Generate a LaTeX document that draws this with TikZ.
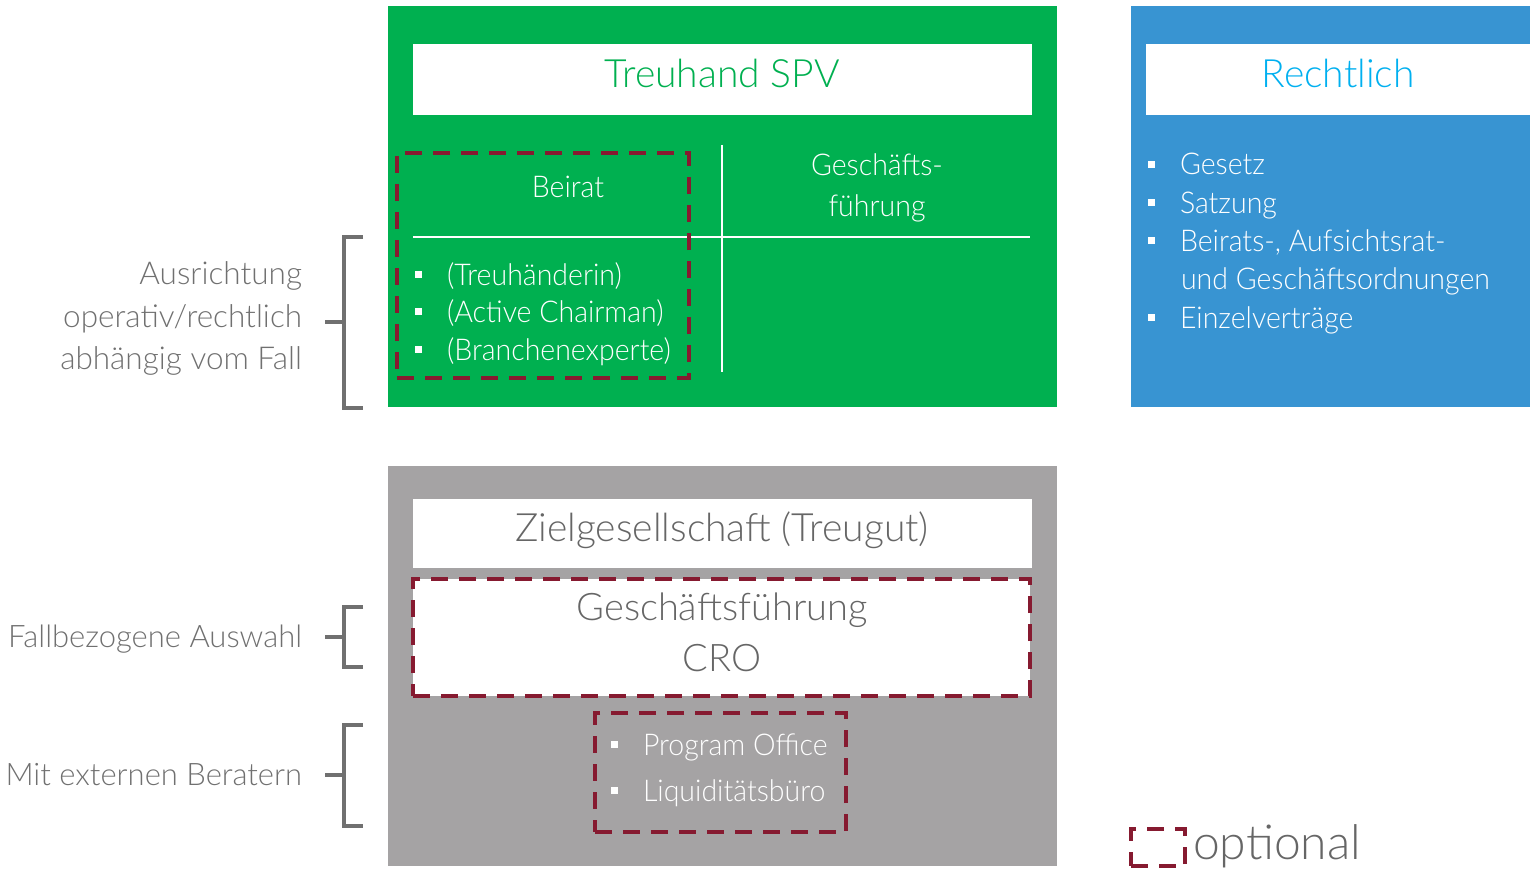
\documentclass[tikz,border=0pt]{standalone}
\usepackage{fontspec}
\setmainfont{Lato Light}
\newfontfamily\narrowfont{Lato Light}[FakeStretch=0.95]
\definecolor{spvgreen}{HTML}{00B050}
\definecolor{legalblue}{HTML}{3894D2}
\definecolor{legalcyan}{HTML}{00B0F0}
\definecolor{targetgray}{HTML}{A5A3A4}
\definecolor{optred}{HTML}{861A30}
\definecolor{labelgray}{HTML}{707070}
\definecolor{darktext}{HTML}{666666}
\newcommand\sqbul{\makebox[32pt][l]{\rule[7pt]{7pt}{7pt}}}
\tikzset{
  panel/.style={inner sep=0pt, outer sep=0pt, anchor=north west},
  dashbox/.style={draw=optred, line width=4pt, dash pattern=on 17pt off 11pt, inner sep=0pt, outer sep=0pt, anchor=north west},
  txt/.style={inner sep=0pt, outer sep=0pt},
  body/.style={txt, font=\narrowfont\fontsize{30}{36}\selectfont},
  ttl/.style={txt, anchor=base, font=\fontsize{39}{46}\selectfont},
  lbl/.style={txt, anchor=base east, text=labelgray, font=\fontsize{31.5}{38}\selectfont},
  slbl/.style={lbl, font=\fontsize{31}{38}\selectfont},
  item/.style={body, anchor=base west, text=white},
  big/.style={txt, anchor=base, text=darktext, font=\fontsize{38}{44}\selectfont},
  brk/.style={draw=labelgray, line width=4pt, line join=miter},
  divider/.style={draw=white, line width=2.5pt}
}
\begin{document}
\begin{tikzpicture}[x=1pt,y=-1pt]
\useasboundingbox (0,0) rectangle (1530,869);

% --- Treuhand SPV panel ---
\node[panel, fill=spvgreen, minimum width=669pt, minimum height=401pt] (spv) at (388,6) {};
\node[panel, fill=white, minimum width=619pt, minimum height=71pt] (spvhead) at (413,44) {};
\node[ttl, text=spvgreen] (spvname) at (722,88) {Treuhand SPV};
\coordinate (vtop) at (722,145);
\coordinate (vbot) at (722,372);
\coordinate (hleft) at (413,237);
\coordinate (hright) at (1030,237);
\draw[divider] (vtop) -- (vbot);
\draw[divider] (hleft) -- (hright);
\node[body, anchor=base, text=white] (beirat) at (568,197) {Beirat};
\node[body, anchor=base, text=white] (gf1) at (877,176) {Geschäfts-};
\node[body, anchor=base, text=white] (gf2) at (877,216) {führung};
\node[item] (b1) at (415,285) {\sqbul(Treuhänderin)};
\node[item] (b2) at (415,322) {\sqbul(Active Chairman)};
\node[item] (b3) at (415,360) {\sqbul(Branchenexperte)};
\node[dashbox, minimum width=292pt, minimum height=225pt] (beiratbox) at (397,153) {};

% --- Rechtlich panel ---
\node[panel, fill=legalblue, minimum width=399pt, minimum height=401pt] (legal) at (1131,6) {};
\node[panel, fill=white, minimum width=384pt, minimum height=71pt] (legalhead) at (1146,44) {};
\node[ttl, text=legalcyan] (legalname) at (1338,88) {Rechtlich};
\node[item] (l1) at (1148,175) {\sqbul Gesetz};
\node[item] (l2) at (1148,213) {\sqbul Satzung};
\node[item] (l3) at (1148,251) {\sqbul Beirats-, Aufsichtsrat-};
\node[item] (l3b) at (1181,289) {und Geschäftsordnungen};
\node[item] (l4) at (1148,328) {\sqbul Einzelverträge};

% --- Zielgesellschaft panel ---
\node[panel, fill=targetgray, minimum width=669pt, minimum height=400pt] (target) at (388,466) {};
\node[panel, fill=white, minimum width=619pt, minimum height=69pt] (targethead) at (413,499) {};
\node[big, font=\fontsize{39}{44}\selectfont] (targetname) at (722,541) {Zielgesellschaft (Treugut)};
\node[dashbox, fill=white, minimum width=617pt, minimum height=117pt] (cro) at (413,579) {};
\node[big] (cro1) at (722,620) {Geschäftsführung};
\node[big] (cro2) at (722,671) {CRO};
\node[dashbox, minimum width=251pt, minimum height=119pt] (office) at (595,713) {};
\node[item] (o1) at (611,755) {\sqbul Program Office};
\node[item] (o2) at (611,801) {\sqbul Liquiditätsbüro};

% --- Side labels with brackets ---
\node[lbl] (a1) at (302,284) {Ausrichtung};
\node[lbl] (a2) at (302,327) {operativ/rechtlich};
\node[lbl] (a3) at (302,369) {abhängig vom Fall};
\node[slbl] (fa) at (302,647) {Fallbezogene Auswahl};
\node[slbl] (mb) at (302,785) {Mit externen Beratern};

\coordinate (k1a) at (363,237); \coordinate (k1b) at (363,408);
\coordinate (k1m) at (325,322); \coordinate (k1s) at (344,322);
\draw[brk] (k1a) -- (344,237) -- (344,408) -- (k1b);
\draw[brk] (k1m) -- (k1s);

\coordinate (k2a) at (363,607); \coordinate (k2b) at (363,667);
\coordinate (k2m) at (325,637); \coordinate (k2s) at (344,637);
\draw[brk] (k2a) -- (344,607) -- (344,667) -- (k2b);
\draw[brk] (k2m) -- (k2s);

\coordinate (k3a) at (363,725); \coordinate (k3b) at (363,826);
\coordinate (k3m) at (325,775); \coordinate (k3s) at (344,775);
\draw[brk] (k3a) -- (344,725) -- (344,826) -- (k3b);
\draw[brk] (k3m) -- (k3s);

% --- Legend ---
\node[dashbox, minimum width=54pt, minimum height=37pt] (legend) at (1131,829) {};
\node[txt, anchor=base west, text=darktext, font=\fontsize{48}{54}\selectfont] (legendtext) at (1193,859) {optional};
\end{tikzpicture}
\end{document}
